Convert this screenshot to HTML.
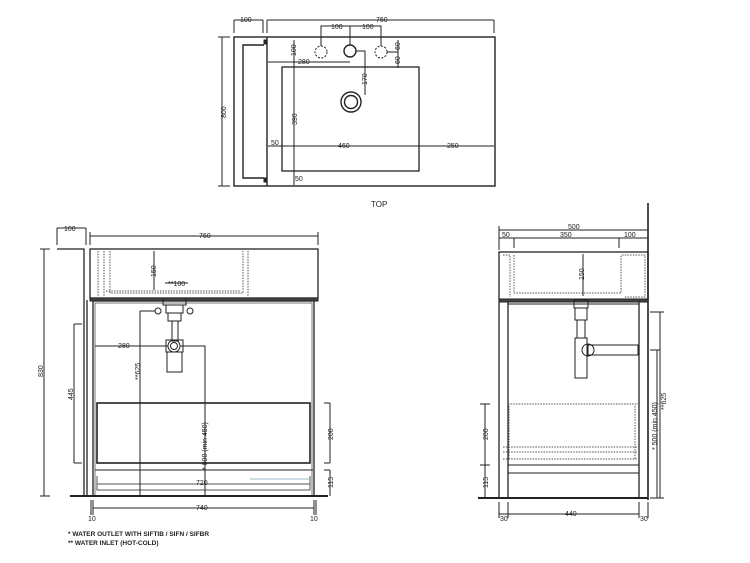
<!DOCTYPE html>
<html><head><meta charset="utf-8"><style>
html,body{margin:0;padding:0;background:#fff;width:750px;height:563px;overflow:hidden}
svg{display:block}
text{font-family:"Liberation Sans",sans-serif;font-size:7px;fill:#222}
</style></head><body>
<svg width="750" height="563" viewBox="0 0 750 563" xmlns="http://www.w3.org/2000/svg">
<g fill="none" stroke="#222" stroke-width="1">
<!-- TOP VIEW -->
<rect x="234" y="37" width="261" height="149" stroke-width="1.4"/>
<line x1="267" y1="37" x2="267" y2="186" stroke-width="1.4"/>
<path d="M264 45 H243 V178 H264" stroke-width="1.4"/>
<rect x="264" y="40" width="3" height="4" fill="#222"/><rect x="264" y="178" width="3" height="4" fill="#222"/>
<rect x="282" y="67" width="137" height="104" stroke-width="1.3"/>
<circle cx="351" cy="102" r="10" stroke-width="1.4"/><circle cx="351" cy="102" r="6.5" stroke-width="1.4"/>
<circle cx="321" cy="52" r="6" stroke-dasharray="2,1.5"/>
<circle cx="350" cy="51" r="6" stroke-width="1.4"/>
<circle cx="381" cy="52" r="6" stroke-dasharray="2,1.5"/>
<line x1="234" y1="20" x2="234" y2="33"/><line x1="263" y1="20" x2="263" y2="33"/><line x1="234" y1="20" x2="263" y2="20"/>
<line x1="267" y1="20" x2="494" y2="20"/><line x1="267" y1="20" x2="267" y2="33"/><line x1="494" y1="20" x2="494" y2="33"/>
<path d="M321 46 V26 H381 V46 M350 26 V45"/>
<path d="M222 37 V186 M218 37 H230 M218 186 H230"/>
<path d="M268 62 H350 M356 51 H365 V95"/>
<path d="M294 40 V185"/>
<path d="M387 52 H398 M398 40 V68"/>
<path d="M268 146 H494"/>
</g>
<g>
<text x="240" y="22">100</text><text x="376" y="22">760</text>
<text x="331" y="29">100</text><text x="362" y="29">100</text>
<text x="298" y="64">280</text><text x="271" y="145">50</text><text x="338" y="148">460</text><text x="447" y="148">250</text><text x="295" y="181">50</text>
<text transform="translate(226,118) rotate(-90)">800</text>
<text transform="translate(296,56) rotate(-90)">100</text>
<text transform="translate(297,125) rotate(-90)">390</text>
<text transform="translate(367,85) rotate(-90)">170</text>
<text transform="translate(400,50) rotate(-90)">60</text>
<text transform="translate(400,64) rotate(-90)">60</text>
<text x="371" y="207" style="font-size:8px">TOP</text>
</g>

<!-- FRONT VIEW -->
<g fill="none" stroke="#222" stroke-width="1">
<rect x="90" y="249" width="228" height="49" stroke-width="1.3"/>
<path d="M104 251 V297 M110 251 V293 H243 V251 M248 251 V297 M98 251 V297 M106 291 H241" stroke-dasharray="1.5,1.2" stroke="#555"/>
<rect x="90" y="298" width="228" height="3" fill="#444"/>
<rect x="93" y="301" width="221" height="195" stroke-width="1.3"/>
<rect x="95" y="303" width="217" height="193" stroke="#777"/>
<path d="M57 249 H84 V496 M87 300 V496" stroke-width="1.3"/>
<line x1="70" y1="496" x2="328" y2="496" stroke-width="2"/>
<rect x="97" y="403" width="213" height="60" stroke-width="1.6"/>
<line x1="95" y1="470" x2="313" y2="470"/>
<path d="M97 476 V490 H310 V476 M97 484 H310" stroke="#555"/>
<line x1="250" y1="479" x2="309" y2="479" stroke="#9bc"/>
<!-- trap -->
<path d="M163 298 V305 H186 V298" />
<rect x="166" y="305" width="17" height="8"/>
<rect x="168" y="313" width="13" height="8"/>
<rect x="172" y="321" width="6" height="20"/>
<rect x="166" y="340" width="17" height="12"/>
<circle cx="174" cy="346" r="6"/><circle cx="174" cy="346" r="3.5"/>
<rect x="167" y="352" width="15" height="20"/>
<circle cx="158" cy="311" r="3"/><circle cx="190" cy="311" r="3"/>
<!-- dims -->
<path d="M57 228 V245 M86 228 V245 M57 228 H86"/>
<path d="M90 236 H318 M90 232 V245 M318 232 V245"/>
<path d="M44 249 V496 M40 249 H50 M40 496 H50"/>
<path d="M74 324 V463 M74 324 H82 M74 463 H82"/>
<path d="M154 251 V290"/>
<path d="M165 283 H188"/>
<path d="M95 346 H168 M180 346 H205 V496"/>
<path d="M140 311 V496 M140 311 H155"/>
<path d="M330 403 V463 M324 403 H330 M324 463 H330 M330 470 V496 M324 470 H330"/>
<path d="M93 508 H314 M93 500 V515 M314 500 V515 M91 500 V515 M316 500 V515"/>
</g>
<g>
<text x="64" y="231">100</text><text x="199" y="238">760</text>
<text x="168" y="286">**100</text><text x="118" y="348">280</text>
<text x="196" y="485">720</text><text x="196" y="510">740</text>
<text x="88" y="521">10</text><text x="310" y="521">10</text>
<text transform="translate(43,377) rotate(-90)">830</text>
<text transform="translate(73,400) rotate(-90)">445</text>
<text transform="translate(156,277) rotate(-90)">150</text>
<text transform="translate(140,380) rotate(-90)">**625</text>
<text transform="translate(207,470) rotate(-90)">* 800 (min 450)</text>
<text transform="translate(333,440) rotate(-90)">200</text>
<text transform="translate(333,488) rotate(-90)">115</text>
<text x="68" y="536" style="font-size:6.5px;font-weight:bold">*  WATER OUTLET WITH SIFTIB / SIFN / SIFBR</text>
<text x="68" y="545" style="font-size:6.5px;font-weight:bold">** WATER INLET (HOT-COLD)</text>
</g>

<!-- SIDE VIEW -->
<g fill="none" stroke="#222" stroke-width="1">
<line x1="648" y1="203" x2="648" y2="500" stroke-width="1.6"/>
<rect x="499" y="252" width="149" height="48" stroke-width="1.3"/>
<rect x="499" y="299" width="149" height="3" fill="#444"/>
<path d="M503 255 H510 V297 M514 255 V293 H621 V255 M622 255 H645 V297 H624" stroke-dasharray="1.5,1.2" stroke="#555"/>
<path d="M499 302 V498 H508 V302 M639 302 V498 H648" stroke-width="1.3"/>
<line x1="508" y1="304" x2="639" y2="304"/>
<line x1="478" y1="498" x2="648" y2="498" stroke-width="2"/>
<path d="M508 404 H639 M509 406 V460 M635 406 V460 M503 447 H637 M503 452 H637 M503 459 H637" stroke-dasharray="1.5,1.2" stroke="#555"/>
<rect x="508" y="465" width="131" height="8"/>
<!-- trap -->
<rect x="574" y="300" width="14" height="8"/>
<rect x="575" y="308" width="12" height="12"/>
<rect x="577" y="320" width="8" height="18"/>
<rect x="575" y="338" width="12" height="40"/>
<rect x="588" y="345" width="50" height="10"/>
<circle cx="588" cy="350" r="6"/>
<!-- dims -->
<path d="M499 230 H648 M499 226 V250"/>
<path d="M499 238 H648 M514 238 V248 M619 238 V248"/>
<path d="M583 254 V296"/>
<path d="M485 404 V498 M480 404 H490 M480 465 H490 M480 498 H490"/>
<path d="M499 514 H639 M499 502 V518 M508 502 V518 M639 502 V518 M648 502 V518"/>
<path d="M657 350 V498 M650 350 H660 M660 312 V498 M650 312 H664 M650 498 H664"/>
</g>
<g>
<text x="568" y="229">500</text>
<text x="502" y="237">50</text><text x="560" y="237">350</text><text x="624" y="237">100</text>
<text x="565" y="516">440</text>
<text x="500" y="521">30</text><text x="640" y="521">30</text>
<text transform="translate(584,280) rotate(-90)">150</text>
<text transform="translate(488,440) rotate(-90)">200</text>
<text transform="translate(488,488) rotate(-90)">115</text>
<text transform="translate(657,450) rotate(-90)">* 500 (min 450)</text>
<text transform="translate(666,410) rotate(-90)">**625</text>
</g>
</svg>
</body></html>
